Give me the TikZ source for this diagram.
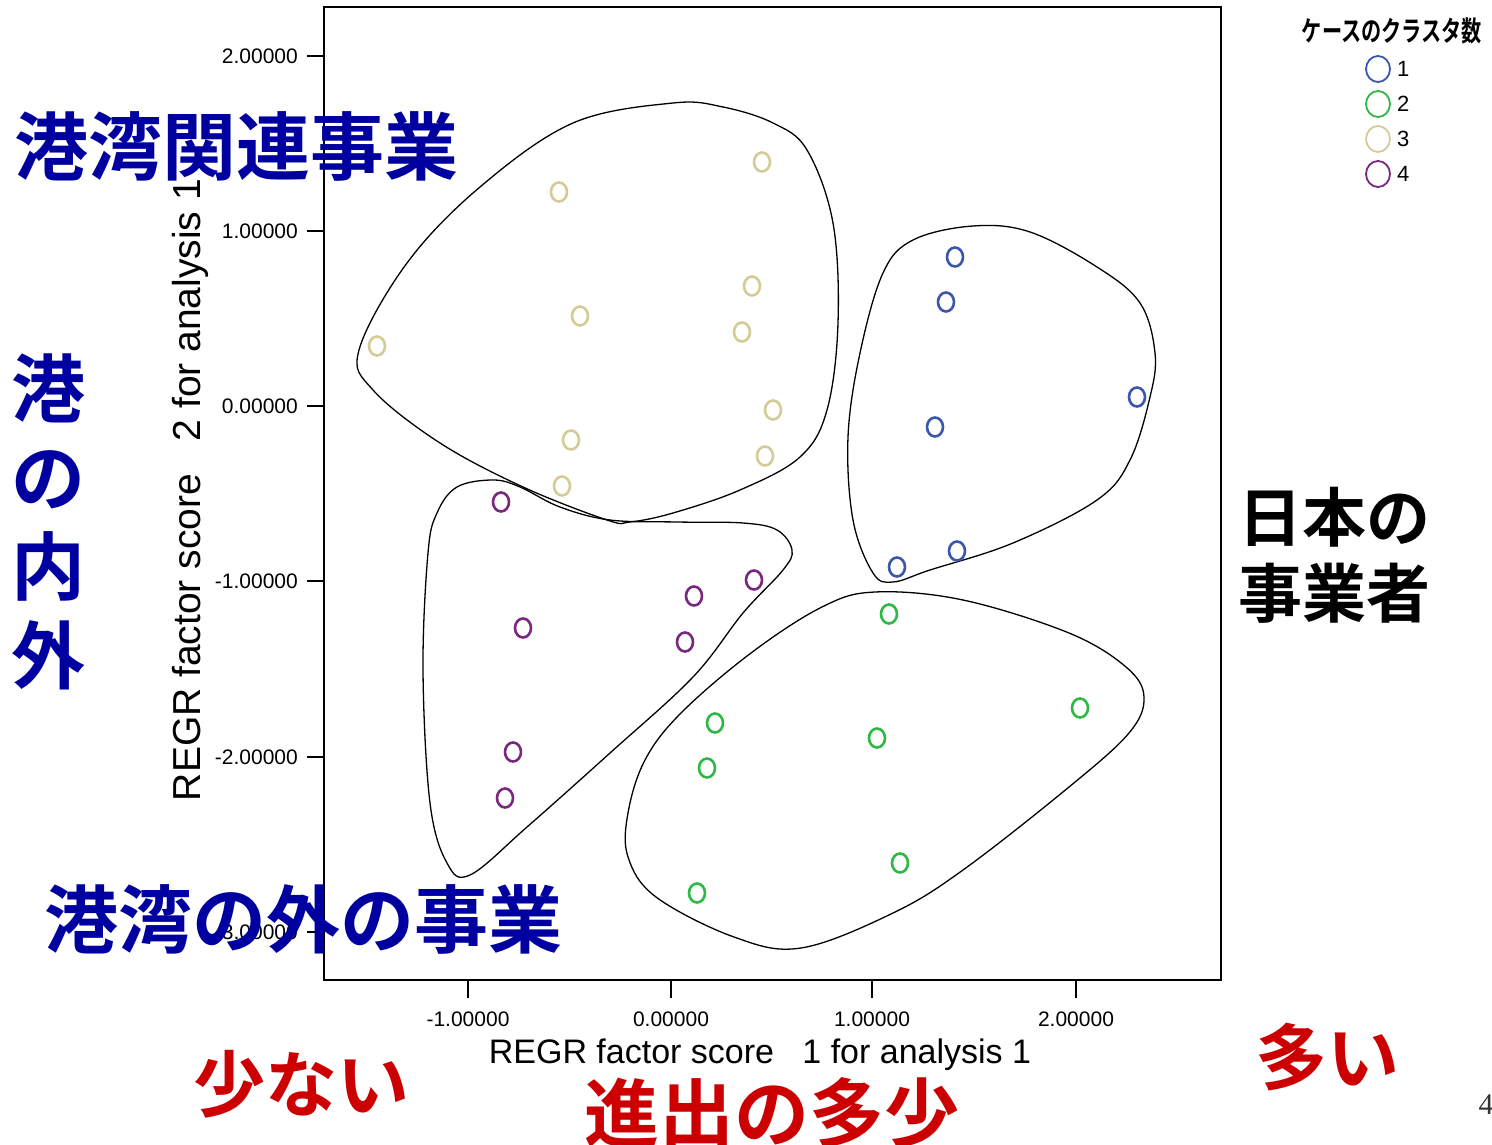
\documentclass[tikz,border=0pt]{standalone}
\usepackage{fontspec}
\usetikzlibrary{shapes.geometric}
\setmainfont{Liberation Sans}
\newfontfamily\jp{Noto Sans CJK JP}
\newfontfamily\jpb{Noto Sans CJK JP Bold}
\newfontfamily\serifnum{Liberation Serif}
\definecolor{cone}{RGB}{59,87,170}
\definecolor{ctwo}{RGB}{46,184,70}
\definecolor{cthree}{RGB}{212,204,150}
\definecolor{cfour}{RGB}{120,40,125}
\definecolor{jblue}{RGB}{0,0,160}
\definecolor{jred}{RGB}{204,0,0}
\begin{document}
\begin{tikzpicture}[x=1pt,y=-1pt,
  pt/.style={ellipse, draw, line width=2.6pt, minimum width=16pt, minimum height=19pt, inner sep=0pt},
  legpt/.style={ellipse, draw, line width=1.8pt, minimum width=24pt, minimum height=26pt, inner sep=0pt},
  blob/.style={draw=black, line width=1.3pt},
  ticklab/.style={font=\fontsize{21}{24}\selectfont, inner sep=0pt},
  bigblue/.style={text=jblue, font=\jpb\fontsize{74}{89}\selectfont, inner sep=0pt},
  bigred/.style={text=jred, font=\jpb\fontsize{72}{80}\selectfont, inner sep=0pt},
  bigblack/.style={text=black, font=\jpb\fontsize{64}{76}\selectfont, inner sep=0pt, align=center}
]
\useasboundingbox (0,0) rectangle (1492,1145);
\fill[white] (0,0) rectangle (1492,1145);

% blobs
\draw[blob] plot[smooth cycle, tension=0.6] coordinates {(673,103) (723,107) (773,123) (807,150) (833,223) (838,323) (827,410) (800,457) (740,490) (673,513) (630,522) (607,520) (523,487) (440,443) (373,390) (359,350) (407,263) (480,187) (573,123)};
\draw[blob] plot[smooth cycle, tension=0.6] coordinates {(973,226) (1030,232) (1097,267) (1140,303) (1155,353) (1150,397) (1130,460) (1097,500) (1013,543) (930,570) (893,582) (873,573) (853,520) (848,437) (860,353) (883,273) (913,240)};
\draw[blob] plot[smooth cycle, tension=0.6] coordinates {(457,487) (493,480) (520,487) (560,507) (610,520) (677,522) (743,523) (777,530) (792,550) (783,570) (743,613) (693,677) (610,753) (527,827) (470,875) (447,863) (430,803) (423,670) (428,553) (437,513)};
\draw[blob] plot[smooth cycle, tension=0.6] coordinates {(875,592) (963,600) (1069,633) (1126,667) (1144,697) (1129,733) (1069,787) (963,870) (893,913) (801,948) (734,937) (656,897) (628,857) (628,813) (645,760) (681,713) (751,653) (822,607)};

% frame
\draw[line width=2.5pt] (324,7) rectangle (1221,980);
% y ticks
\foreach \yy/\lab in {56/2.00000, 231/1.00000, 406/0.00000, 581/-1.00000, 757/-2.00000, 932/-3.00000}{
  \draw[line width=2.2pt] (307,\yy) -- (324,\yy);
  \node[ticklab, anchor=east] at (298,\yy) {\lab};
}
% x ticks
\foreach \xx/\lab in {468/-1.00000, 671/0.00000, 872/1.00000, 1076/2.00000}{
  \draw[line width=2.2pt] (\xx,980) -- (\xx,998);
  \node[ticklab] at (\xx,1019) {\lab};
}
% axis labels
\node[font=\fontsize{34}{40}\selectfont, inner sep=0pt] (xlab) at (760,1055) {REGR factor score\ \ \ 1 for analysis 1};
\node[font=\fontsize{39}{44}\selectfont, inner sep=0pt, rotate=90] (ylab) at (190,490) {REGR factor score\ \ \ 2 for analysis 1};

% points cluster 3
\foreach \px/\py [count=\i] in {762/162, 559/192, 752/286, 580/316, 742/332, 377/346, 773/410, 571/440, 765/456, 562/486}
  \node[pt, draw=cthree] (t\i) at (\px,\py) {};
% cluster 1
\foreach \px/\py [count=\i] in {955/257, 946/302, 1137/397, 935/427, 957/551, 897/567}
  \node[pt, draw=cone] (b\i) at (\px,\py) {};
% cluster 4
\foreach \px/\py [count=\i] in {501/502, 754/580, 694/596, 523/628, 685/642, 513/752, 505/798}
  \node[pt, draw=cfour] (p\i) at (\px,\py) {};
% cluster 2
\foreach \px/\py [count=\i] in {889/614, 1080/708, 715/723, 877/738, 707/768, 900/863, 697/893}
  \node[pt, draw=ctwo] (g\i) at (\px,\py) {};

% legend
\node[font=\jpb\fontsize{28}{30}\selectfont, inner sep=0pt, xscale=0.72] (legt) at (1392,31) {ケースのクラスタ数};
\foreach \yy/\c/\n in {69/cone/1, 104/ctwo/2, 139/cthree/3, 174/cfour/4}{
  \node[legpt, draw=\c] (l\n) at (1378,\yy) {};
  \node[font=\fontsize{22}{24}\selectfont, inner sep=0pt, anchor=west] (ln\n) at (1397,\yy) {\n};
}

% Japanese annotations
\node[bigblue] (a1) at (237,146) {港湾関連事業};
\node[bigblue, align=center] (a2) at (49,522) {港\\の\\内\\外};
\node[bigblue] (a3) at (304,919) {港湾の外の事業};
\node[bigblack] (a4) at (1334,555) {日本の\\事業者};
\node[bigred] (a5) at (301,1084) {少ない};
\node[bigred, font=\jpb\fontsize{75}{80}\selectfont] (a6) at (772,1113) {進出の多少};
\node[bigred] (a7) at (1327,1057) {多い};
\node[font=\serifnum\fontsize{30}{32}\selectfont, text=black!80, inner sep=0pt] (pg) at (1486,1105) {4};
\end{tikzpicture}
\end{document}
